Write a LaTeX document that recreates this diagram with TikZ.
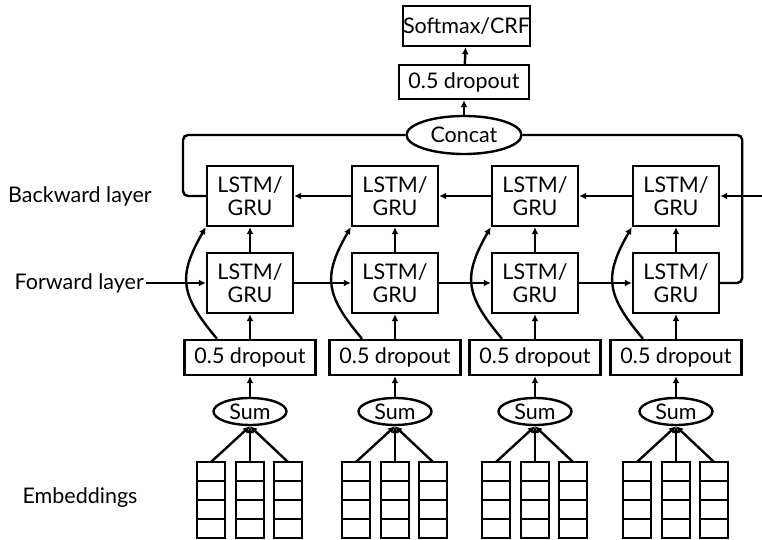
\documentclass[tikz,border=0pt]{standalone}
\usepackage{fontspec}
\setmainfont{Lato}
\usetikzlibrary{arrows.meta,shapes.geometric}
\begin{document}
\begin{tikzpicture}[x=1pt,y=1pt,
  every node/.style={font=\fontsize{21.5}{23}\selectfont},
  box/.style={draw, line width=2.4pt, inner sep=0pt, align=center},
  cellbox/.style={box, minimum width=86pt, minimum height=60pt},
  dropbox/.style={box, minimum width=131pt, minimum height=35pt},
  oval/.style={draw, ellipse, line width=2.4pt, inner sep=0pt},
  embcell/.style={draw, line width=2.4pt, minimum width=28pt, minimum height=19pt, inner sep=0pt, outer sep=0pt},
  arr/.style={line width=2.4pt, -{Latex[length=7pt,width=7pt]}},
  ln/.style={line width=2.4pt, rounded corners=5pt}
]
\useasboundingbox (0,0) rectangle (762,540);

\node[box, minimum width=127pt, minimum height=40pt] (sm) at (466.5,514) {Softmax/CRF};
\node[box, minimum width=130pt, minimum height=34pt] (dt) at (464,458) {0.5 dropout};
\node[oval, minimum width=115pt, minimum height=38pt] (cc) at (464,405) {Concat};

\node[anchor=west, inner sep=0pt] (bl) at (8,344) {Backward layer};
\node[anchor=east, inner sep=2pt] (fl) at (146,257) {Forward layer};
\node (el) at (80,42) {Embeddings};

\foreach \i/\x in {1/250,2/395,3/535,4/676} {
  \node[cellbox] (b\i) at (\x,344) {LSTM/\\GRU};
  \node[cellbox] (f\i) at (\x,257) {LSTM/\\GRU};
  \node[dropbox] (d\i) at (\x,182.5) {0.5 dropout};
  \node[oval, minimum width=73pt, minimum height=27pt] (s\i) at (\x,128.5) {Sum};
  \foreach \e/\dx in {ea/-39,eb/0,ec/38} {
    \foreach \r/\y in {1/68.5,2/49.5,3/30.5,4/11.5} {
      \node[embcell] (\e\i-\r) at (\x+\dx,\y) {};
    }
  }
}

\foreach \i in {1,...,4} {
  \draw[arr] (f\i) -- (b\i);
  \draw[arr] (d\i) -- (f\i);
  \draw[arr] (s\i) -- (d\i);
  \foreach \e in {ea,eb,ec} {\draw[arr] (\e\i-1.north) -- (s\i.south);}
  \draw[arr] ([xshift=-33pt]d\i.north) to[out=130,in=240,looseness=1.3] (b\i.south west);
}
\foreach \i/\j in {1/2,2/3,3/4} {
  \draw[arr] (f\i) -- (f\j);
  \draw[arr] (b\j) -- (b\i);
}
\draw[arr] (fl) -- (f1);
\coordinate (rin) at (762,344);
\draw[arr] (rin) -- (b4);
\draw[ln] (f4.east) -- ++(22,0) |- (cc.east);
\coordinate (lc) at (183,344);
\draw[ln] (cc.west) -| (lc) -- (b1.west);
\draw[arr] (cc) -- (dt);
\draw[arr] (dt) -- (sm);
\end{tikzpicture}
\end{document}
